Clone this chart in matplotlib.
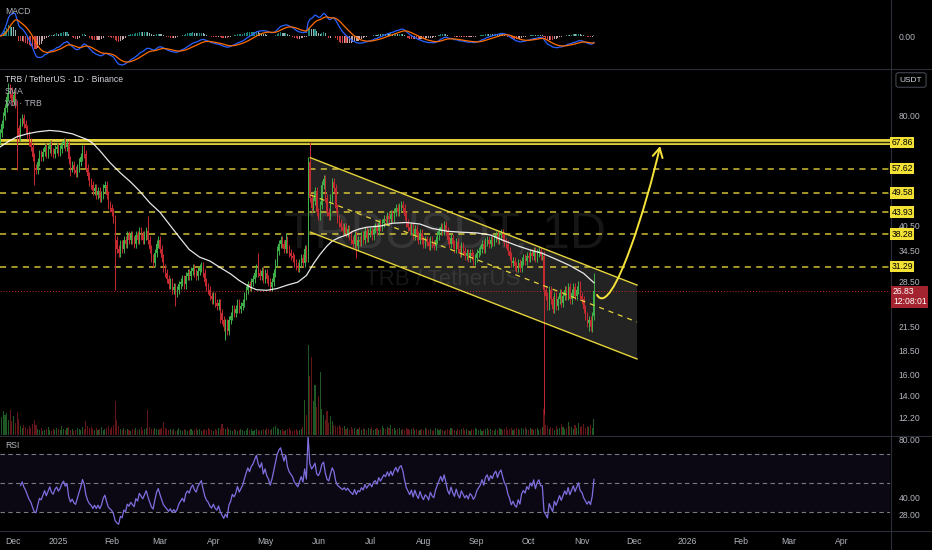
import numpy as np
import pandas as pd
import matplotlib
matplotlib.use("Agg")
import matplotlib.pyplot as plt
import matplotlib.transforms as mtransforms
from matplotlib.path import Path
from matplotlib.patches import FancyArrowPatch, Polygon
from matplotlib.ticker import FixedLocator, NullLocator, FuncFormatter

plt.rcParams['font.family'] = ['Liberation Sans', 'DejaVu Sans']

# ---- data (TRB/USDT daily, Binance) ----
START = "2024-11-28"
FIRST_OPEN = 69.0

closes = [
    72, 76, 80, 84, 90, 95, 92, 88, 91, 86,
    74, 70, 77, 79, 76, 74, 71, 68, 66, 62,
    58, 57, 60, 63, 62, 64, 66, 63, 65, 67,
    64, 63, 65, 66, 64, 65, 67, 68, 66, 67,
    61, 58, 59, 57, 56, 58, 60, 62, 65, 63,
    58, 55, 53, 52, 50, 51, 49, 50, 48, 49,
    51, 52, 49, 46, 45, 44, 42, 37, 35, 34,
    36, 35, 37, 36, 38, 37, 38, 37, 36, 38,
    37, 39, 38, 37, 38, 39, 37, 35, 33, 32,
    34, 36, 37, 35, 33, 31, 30, 29, 28, 28.5,
    27, 27.5, 26.5, 27, 28, 28.5, 29, 28, 29.5, 30,
    29.5, 30.5, 31, 30, 29.5, 30.5, 31, 31.5, 30, 28.5,
    27.5, 27, 26, 25.5, 26, 25, 24.5, 25, 23.5, 22.5,
    21.5, 22, 21, 22.5, 23, 24, 23.5, 24, 25, 24,
    24.5, 25, 26, 27, 28, 27.5, 28.5, 29, 30, 31,
    30, 29.5, 30.5, 29, 30, 29, 28.5, 27.5, 28.5, 30,
    32, 34.5, 36, 37, 36, 35, 37, 35, 34, 33.5,
    33, 32, 31.5, 31, 32, 33, 32, 35, 33, 60,
    48, 45, 47, 50, 44, 43, 46, 52, 54, 48,
    44, 43, 48, 53, 51, 45, 42, 41, 40, 39,
    40, 38.5, 39.5, 38, 37, 36, 38, 35.5, 37, 36.5,
    38, 37, 39, 37.5, 38.5, 39, 38, 39.5, 40, 39,
    41, 40, 41, 42, 41.5, 43, 42, 43.5, 42.5, 44,
    45, 44, 45.5, 46, 45, 43, 41, 40, 39, 40,
    38, 39.5, 38, 37, 38.5, 37, 36, 37, 36.5, 35.5,
    37, 36, 35.5, 37, 38, 39, 40, 39, 40.5, 39,
    37, 36, 37.5, 36, 35, 36.5, 35, 34, 35.5, 34.5,
    33.5, 34, 33, 34, 33.5, 32.5, 33, 34, 34.5, 35,
    36, 35, 36.5, 37, 36, 37, 36.5, 37.5, 38, 37,
    38, 38.5, 37.5, 36.5, 36, 34.5, 33.5, 32, 32.5, 31.5,
    31, 32, 31, 32.5, 33, 32.5, 33.5, 33, 34, 33.5,
    34.5, 33, 34, 34.5, 33.5, 33.5, 27, 26, 24.5, 27,
    25.5, 24, 26, 24.5, 25.5, 26.5, 25, 26, 27, 26,
    27.5, 25.5, 26.5, 27.5, 26, 27, 28, 26, 25.5, 24,
    23, 22, 22.5, 21.5, 23, 26.83,
]

volumes = [
    21, 18, 24, 20, 22, 15, 25, 14, 19, 12, 23, 16,
    9, 7, 10, 8, 6, 9, 7,
    11, 15, 10,
    6, 5, 7, 4, 5, 6, 8, 5, 4, 6, 5, 7, 6, 5, 9, 6, 5, 7, 8, 5, 6, 4, 5, 7, 6, 5, 8, 6,
    14, 9, 7, 8,
    6, 5, 7, 5, 6, 8, 5, 6, 7, 9, 6, 8,
    10, 34, 15, 9,
    6, 5, 7, 5, 6, 5, 4, 6, 5, 7, 5, 6, 8, 5, 6, 7,
    25, 8,
    6, 5, 7, 6, 5, 6, 7,
    13, 7, 6, 5, 6,
    5, 6, 4, 5, 7, 5, 4, 6, 5, 4, 5, 6, 4, 5, 7, 5, 6, 4, 5, 6, 5, 7, 6, 5, 4, 6, 5, 7, 6,
    11, 7, 6, 8, 6,
    5, 4, 6, 5, 4, 5, 6, 5, 4, 5, 7, 5, 6, 4, 5, 6, 5, 4, 5, 6, 5, 7, 6, 5, 6, 8,
    9, 7,
    6, 5, 6, 4, 5, 6, 7, 5, 4, 5, 6, 4, 5, 6, 8,
    36, 20, 91, 60, 79, 35, 51, 28, 40, 64, 26, 20, 15, 24, 12, 19, 14, 10, 9, 8, 10,
    8, 7, 9, 6, 7, 5, 8, 6, 7, 5,
    6, 8, 5, 7, 6, 5, 7, 6, 8, 5,
    6, 7, 5, 6, 9, 7, 6, 8, 7, 10,
    6, 7, 5, 6, 7, 5, 6, 5, 7, 6,
    5, 6, 7, 5, 6, 4, 5, 6, 5, 7,
    6, 5, 6, 4, 5, 7, 6, 5, 6, 5,
    4, 5, 6, 5, 7, 6, 5, 4, 6, 5,
    6, 7, 5, 6, 5, 4, 6, 5, 7, 6,
    5, 6, 4, 5, 6, 7, 5, 6, 5, 4,
    6, 5, 7, 6, 5, 6, 8, 5, 6, 7,
    5, 6, 7, 6, 5, 7, 6, 8,
    6, 5, 7, 6, 5, 6, 7, 5, 6, 8,
    26, 10, 9,
    6, 8, 7, 5, 9, 6, 7, 11, 8, 6, 7, 13, 9, 8, 6, 10, 7, 12, 8, 9, 11, 7, 9, 8, 10, 7, 16,
]

# long wicks that stand out (day index -> price)
wick_highs = {5: 98, 7: 96, 10: 88, 48: 66.5, 86: 43, 150: 34, 161: 35.5, 166: 38.5,
              179: 62, 180: 68, 233: 47, 316: 34.5, 345: 30}
wick_lows = {10: 57, 20: 52, 41: 55, 67: 27, 102: 24.5, 128: 22, 131: 19.8, 207: 33,
             316: 12.5, 342: 21, 344: 20.8}

# SMA line (day index, value)
sma_days = [0, 6, 10, 16, 22, 29, 35, 42, 51, 54, 58, 64, 70, 76, 81, 87, 93, 99, 105, 110,
            116, 122, 128, 134, 139, 145, 149, 155, 161, 167, 173, 178, 182, 186, 190, 193,
            197, 202, 205, 209, 213, 221, 228, 236, 244, 251, 260, 267, 277, 285, 292, 300,
            308, 315, 324, 331, 339, 345]
sma_vals = [65.9, 68.7, 70.3, 71.6, 72.5, 73.1, 72.7, 71.6, 69.0, 67.5, 64.5, 59.8, 56.1,
            53.0, 50.2, 46.6, 43.9, 40.4, 37.2, 34.8, 33.2, 32.4, 31.1, 29.9, 28.7, 27.6,
            27.1, 27.0, 27.3, 27.9, 28.4, 29.6, 31.8, 33.8, 35.6, 36.7, 37.5, 38.2, 39.0,
            39.6, 40.0, 40.3, 41.0, 41.2, 40.8, 39.7, 39.0, 38.8, 38.6, 38.1, 36.9, 35.7,
            34.7, 34.0, 32.6, 31.5, 30.0, 28.3]

resistance = 67.86
levels = [57.62, 49.58, 43.93, 38.28, 31.29]
price_ticks = [80.00, 40.50, 34.50, 28.50, 21.50, 18.50, 16.00, 14.00, 12.20]
rsi_ticks = [80, 40, 28]
last_price = 26.83
countdown = "12:08:01"

# drawings: descending channel and projected move (day index, price)
channel_days = [180.3, 370.0]
channel_upper = [61.7, 27.9]
channel_lower = [38.8, 17.6]
arrow_days = [346.8, 355.5, 376.4, 383.4]
arrow_prices = [26.23, 22.44, 47.39, 66.33]

assert len(closes) == len(volumes), (len(closes), len(volumes))

# ---- style ----
BG = '#000000'
TXT = '#b2b5be'
SEP = '#2a2e39'
UP = '#3fb04a'
DOWN = '#c62a31'
YEL = '#e6d43c'
WICK = 0.025

W, H = 932, 550
fig = plt.figure(figsize=(W / 100, H / 100), dpi=100, facecolor=BG)


def rect(x0, y0, x1, y1):
    return [x0 / W, 1 - y1 / H, (x1 - x0) / W, (y1 - y0) / H]


ax_macd = fig.add_axes(rect(0, 0, 890, 68))
ax = fig.add_axes(rect(0, 69, 890, 435), sharex=ax_macd)
ax_rsi = fig.add_axes(rect(0, 436, 890, 530), sharex=ax_macd)
axv = ax.twinx()

for a in (ax_macd, ax, ax_rsi, axv):
    a.set_facecolor(BG)
    for s in a.spines.values():
        s.set_visible(False)
ax.set_zorder(3)
axv.set_zorder(2)
ax.patch.set_alpha(0)

n = np.arange(len(closes))
c = np.array(closes, dtype=float)
o = np.array([FIRST_OPEN] + closes[:-1], dtype=float)
hi = np.array([max(wick_highs.get(i, 0), max(o[i], c[i]) * (1 + WICK)) for i in n])
lo = np.array([min(wick_lows.get(i, 1e9), min(o[i], c[i]) * (1 - WICK)) for i in n])
up = c >= o
cols = np.where(up, UP, DOWN)

# ---- main price panel ----
ax.set_yscale('log')
ax.set_ylim(10.96, 107.2)
ax.set_xlim(0.1, 516.9)

ax.text(0.5, 0.544, "TRBUSDT, 1D", transform=ax.transAxes, ha='center', va='center',
        fontsize=36, color='white', alpha=0.09, zorder=0.5)
ax.text(0.498, 0.4235, "TRB / TetherUS", transform=ax.transAxes, ha='center', va='center',
        fontsize=16, color='white', alpha=0.09, zorder=0.5)

# channel
poly = Polygon([(channel_days[0], channel_upper[0]), (channel_days[1], channel_upper[1]),
                (channel_days[1], channel_lower[1]), (channel_days[0], channel_lower[0])],
               closed=True, facecolor='white', alpha=0.14, edgecolor='none', zorder=1)
ax.add_patch(poly)
ax.plot(channel_days, channel_upper, color=YEL, lw=1.0, zorder=5)
ax.plot(channel_days, channel_lower, color=YEL, lw=1.0, zorder=5)
mid = np.sqrt(np.array(channel_upper) * np.array(channel_lower))
ax.plot(channel_days, mid, color=YEL, lw=0.9, dashes=(4, 4), zorder=5)

# levels
ax.axhline(resistance, color=YEL, lw=4.3, zorder=2)
ax.axhline(resistance, color='#2e2c0e', lw=1.0, zorder=2)
for lv in levels:
    ax.axhline(lv, color=YEL, lw=1.1, dashes=(4, 3.5), alpha=0.9, zorder=2)
ax.axhline(last_price, color=DOWN, lw=0.7, linestyle=(0, (1, 2)), zorder=2)

# candles
ax.vlines(n, lo, hi, colors=cols, lw=0.7, zorder=3)
body = np.maximum(np.abs(c - o), c * 0.004)
ax.bar(n, body, bottom=np.minimum(o, c), width=0.62, color=cols, linewidth=0, zorder=3)

ax.plot(sma_days, sma_vals, color='white', lw=0.9, alpha=0.9, zorder=4)

# projected path
verts = list(zip(arrow_days, arrow_prices))
path = Path(verts, [Path.MOVETO, Path.CURVE4, Path.CURVE4, Path.CURVE4])
arrow = FancyArrowPatch(path=path, arrowstyle="->,head_length=0.55,head_width=0.3",
                        mutation_scale=12, color='#f5e33a', lw=1.4, zorder=6)
ax.add_patch(arrow)

ax.yaxis.tick_right()
ax.yaxis.set_major_locator(FixedLocator(price_ticks))
ax.yaxis.set_minor_locator(NullLocator())
ax.yaxis.set_major_formatter(FuncFormatter(lambda v, p: f"{v:.2f}"))
ax.tick_params(axis='y', length=0, pad=6, labelsize=6.2, labelcolor=TXT)
ax.tick_params(axis='x', bottom=False, labelbottom=False)

blend = mtransforms.blended_transform_factory(ax.transAxes, ax.transData)
for lv in [resistance] + levels:
    ax.text(1.0015, lv, f"{lv:.2f}", transform=blend, ha='left', va='center', fontsize=6.2,
            color='black', clip_on=False, zorder=10,
            bbox=dict(boxstyle='square,pad=0.15', fc='#f3e235', ec='none'))
ax.annotate(f"{last_price:.2f}\n{countdown}", xy=(1.0, last_price), xycoords=blend,
            xytext=(3, 4), textcoords='offset pixels', ha='left', va='top', fontsize=6.2,
            color='white', linespacing=1.1, annotation_clip=False, zorder=10,
            bbox=dict(boxstyle='square,pad=0.2', fc='#a3242f', ec='none'))

# volume
axv.bar(n, volumes, width=0.62, color=cols, alpha=0.5, linewidth=0)
axv.set_ylim(0, max(volumes) / 0.245)
axv.yaxis.set_visible(False)
axv.tick_params(axis='x', bottom=False, labelbottom=False)

# ---- MACD ----
s = pd.Series(c)
macd = s.ewm(span=12, adjust=False).mean() - s.ewm(span=26, adjust=False).mean()
signal = macd.ewm(span=9, adjust=False).mean()
hist = (macd - signal).values
prev = np.r_[0, hist[:-1]]
hcol = np.where(hist >= 0, np.where(hist >= prev, '#26a69a', '#b2dfdb'),
                np.where(hist < prev, '#ff5252', '#ffcdd2'))
ax_macd.bar(n, hist, width=0.62, color=hcol, linewidth=0, alpha=0.8)
ax_macd.plot(n, macd, color='#2962ff', lw=0.9)
ax_macd.plot(n, signal, color='#ff6d00', lw=0.9)
m = np.nanmax(np.abs(macd.values))
ax_macd.set_ylim(-1.1 * m, 1.24 * m)
ax_macd.yaxis.tick_right()
ax_macd.set_yticks([0])
ax_macd.yaxis.set_major_formatter(FuncFormatter(lambda v, p: "0.00"))
ax_macd.tick_params(axis='y', length=0, pad=6, labelsize=6.2, labelcolor=TXT)
ax_macd.tick_params(axis='x', bottom=False, labelbottom=False)

# ---- RSI ----
d = s.diff()
gain = d.clip(lower=0).ewm(alpha=1 / 14, adjust=True, min_periods=12).mean()
loss = (-d.clip(upper=0)).ewm(alpha=1 / 14, adjust=True, min_periods=12).mean()
rsi = 100 - 100 / (1 + gain / loss)
ax_rsi.set_ylim(17.6, 82.4)
ax_rsi.axhspan(30, 70, color='#7e57c2', alpha=0.1, lw=0)
for lv in (70, 50, 30):
    ax_rsi.axhline(lv, color='#787b86', lw=0.8, dashes=(4, 3))
ax_rsi.plot(n, rsi, color='#7e6fe0', lw=0.9)
ax_rsi.yaxis.tick_right()
ax_rsi.set_yticks(rsi_ticks)
ax_rsi.yaxis.set_major_formatter(FuncFormatter(lambda v, p: f"{v:.2f}"))
ax_rsi.tick_params(axis='y', length=0, pad=6, labelsize=6.2, labelcolor=TXT)

dates = pd.date_range(START, periods=len(closes), freq="D")
months = pd.date_range("2024-12-01", "2026-04-01", freq="MS")
ax_rsi.set_xticks([(mth - dates[0]).days for mth in months])
ax_rsi.set_xticklabels([str(mth.year) if mth.month == 1 else mth.strftime("%b") for mth in months])
ax_rsi.tick_params(axis='x', length=0, pad=5, labelsize=6.2, labelcolor=TXT)
ax_rsi.get_xticklabels()[0].set_horizontalalignment('left')

# ---- legends / frame ----
fig.text(5 / W, 1 - 11 / H, "MACD", fontsize=6.2, color=TXT, va='center')
fig.text(5 / W, 1 - 80 / H, "TRB / TetherUS · 1D · Binance", fontsize=6.2, color='#d1d4dc',
         va='center', zorder=20)
fig.text(5 / W, 1 - 92 / H, "SMA", fontsize=6.2, color=TXT, va='center', zorder=20)
fig.text(5 / W, 1 - 104 / H, "Vol · TRB", fontsize=6.2, color=TXT, va='center', zorder=20)
fig.text(5 / W, 1 - 446 / H, "RSI", fontsize=6.2, color=TXT, va='center')
fig.text(911 / W, 1 - 80 / H, "USDT", fontsize=6, color='#d1d4dc', ha='center', va='center',
         bbox=dict(boxstyle='round,pad=0.45,rounding_size=0.3', fc=BG, ec='#434651', lw=0.8))

for yy in (68.5, 435.5, 530.5):
    fig.add_artist(plt.Line2D([0, 1], [1 - yy / H] * 2, color=SEP, lw=0.8,
                              transform=fig.transFigure))
fig.add_artist(plt.Line2D([890.5 / W] * 2, [0, 1], color=SEP, lw=0.8, transform=fig.transFigure))

fig.savefig("out.png", dpi=100, facecolor=BG)
